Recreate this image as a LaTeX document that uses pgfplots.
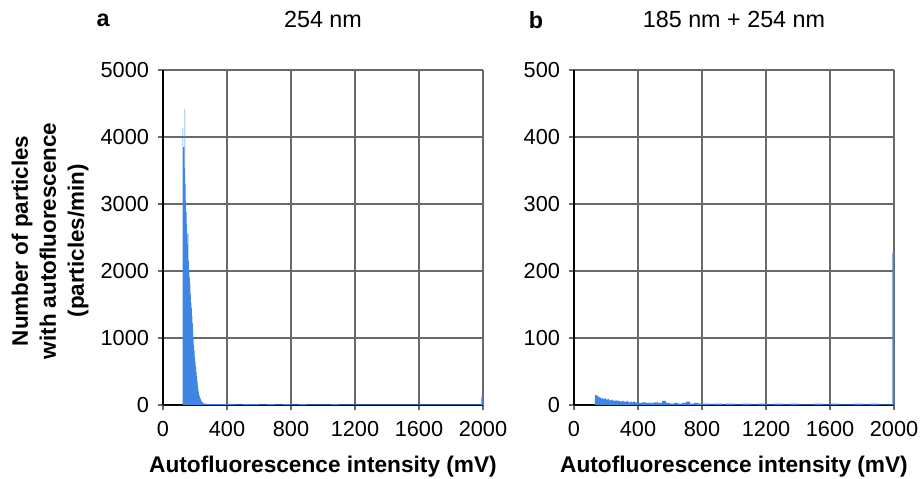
\documentclass[border=0pt]{standalone}
\usepackage{fontspec}
\setmainfont{Liberation Sans}
\usepackage{pgfplots}
\pgfplotsset{compat=1.18}
\definecolor{barblue}{RGB}{62,134,228}
\definecolor{gridgray}{RGB}{105,105,105}

\pgfplotsset{
  histo/.style={
    scale only axis, width=240pt, height=251.25pt,
    xmin=0, xmax=2000, ymin=0,
    clip mode=individual,
    axis lines=left, axis line style={black, line width=0.9pt, -},
    xtick={0,400,...,2000},
    grid=major, grid style={gridgray, line width=0.9pt},
    tick style={gridgray, line width=0.8pt},
    tick align=outside, major tick length=4pt,
    ticklabel style={font=\fontsize{16.3}{18}\selectfont},
    xticklabel style={yshift=-5pt},
    yticklabel style={xshift=-3pt},
    /pgf/number format/assume math mode=true,
    /pgf/number format/set thousands separator={},
    xlabel={Autofluorescence intensity (mV)},
    xlabel style={font=\bfseries\fontsize{17}{20}\selectfont,
      at={(axis description cs:0.5,0)}, anchor=center, yshift=-46.5pt},
    title style={font=\fontsize{17.5}{20}\selectfont,
      at={(axis description cs:0.5,1)}, anchor=center, yshift=32pt},
  }
}

\begin{document}
\begin{tikzpicture}
\path[use as bounding box] (-122.25pt,-54.75pt) rectangle (567.75pt,303.75pt);

% a: 254 nm
\begin{axis}[histo, at={(0pt,0pt)},
    ymax=5000, ytick={0,1000,...,5000},
    title={254 nm},
    ylabel={Number of particles\\with autofluorescence\\(particles/min)},
    ylabel style={font=\bfseries\fontsize{16.8}{21}\selectfont, align=center,
      at={(axis description cs:-0.353,0.49)}, anchor=center}]
  \addplot[ybar interval, fill=barblue, draw=none] coordinates {
    (0,0)(123,4130)(126,3850)(129,3850)(132,3540)(135,4420)(138,3300)(141,3050)
    (144,2880)(147,2700)(150,2550)(153,2400)(156,2570)(159,2150)(162,2015)(165,1900)
    (168,1800)(171,1650)(174,1520)(177,1450)(180,1330)(183,1220)(186,1100)(189,1000)
    (192,900)(195,810)(198,720)(201,640)(204,570)(207,500)(210,430)(213,360)
    (216,290)(219,220)(222,190)(225,160)(228,130)(231,110)(234,90)(237,70)
    (240,55)(243,45)(246,35)(249,30)(252,25)(258,20)(265,15)(275,12)
    (300,14)(350,12)(400,15)(450,10)(500,12)(550,14)(600,10)(650,12)
    (700,11)(750,13)(800,10)(850,12)(900,9)(950,11)(1000,10)(1050,12)
    (1100,9)(1150,11)(1200,10)(1250,9)(1300,11)(1350,10)(1400,9)(1450,10)
    (1500,11)(1550,9)(1600,10)(1650,9)(1700,11)(1750,10)(1800,9)(1850,10)
    (1900,9)(1950,10)(1990,120)(2000,0)};
  \node[font=\bfseries\fontsize{17.5}{20}\selectfont] at (axis description cs:-0.1875,1.149) {a};
\end{axis}

% b: 185 nm + 254 nm
\begin{axis}[histo, at={(308.25pt,0pt)},
    ymax=500, ytick={0,100,...,500},
    title={185 nm + 254 nm}]
  \addplot[ybar interval, fill=barblue, draw=none] coordinates {
    (0,0)(130,15)(140,14)(150,12)(160,11)(170,10)(180,9)(190,10)(200,8)
    (210,9)(220,7)(230,8)(240,7)(250,6)(260,7)(270,6)(280,6)(290,5)
    (300,6)(310,5)(320,5)(330,6)(340,4)(350,5)(360,4)(370,5)(380,4)(390,4)
    (400,3)(425,4)(450,3)(475,3)(500,4)(525,3)(550,6)(575,3)(600,2)(625,3)
    (650,2)(675,3)(700,5)(725,2)(750,3)(775,2)(800,2)(825,2)(850,1)(875,2)
    (900,2)(925,1)(950,2)(975,2)(1000,1)(1050,2)(1100,1)(1150,2)(1200,1)
    (1250,2)(1300,1)(1350,2)(1400,1)(1450,1)(1500,2)(1550,1)(1600,2)(1650,1)
    (1700,1)(1750,2)(1800,1)(1850,2)(1900,1)(1950,1)(1990,227)(2000,0)};
  \node[font=\bfseries\fontsize{17.5}{20}\selectfont] at (axis description cs:-0.119,1.149) {b};
\end{axis}
\end{tikzpicture}
\end{document}
